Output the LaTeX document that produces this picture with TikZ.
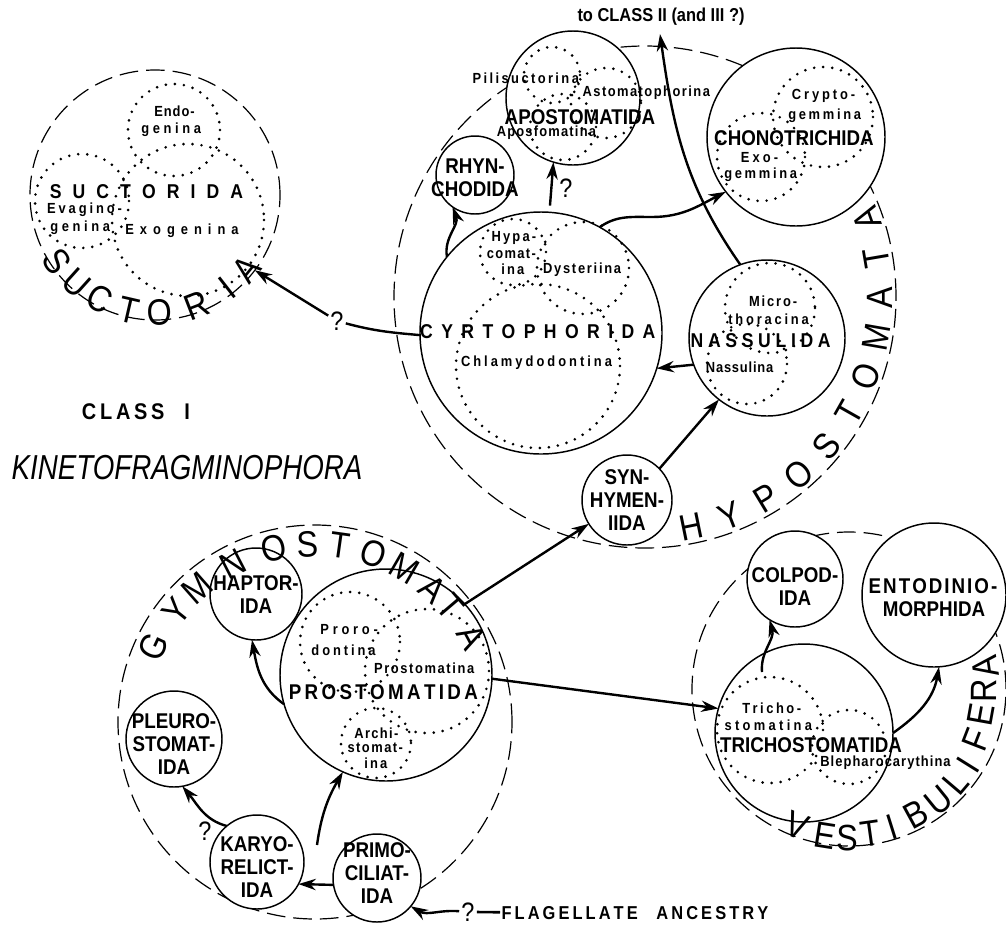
\documentclass[tikz,border=0pt]{standalone}
\usepackage{fontspec}
\setmainfont{Liberation Sans}[FakeStretch=0.88]
\newfontfamily\kfont{Liberation Sans}[FakeStretch=0.80]
\usetikzlibrary{arrows.meta,calc}
\makeatletter
\newcommand\spc[2]{\begingroup\def\spc@g{#1}\@tfor\spc@c:=#2\do{\spc@c\hskip\spc@g\relax}\hskip-\spc@g\relax\endgroup}
\makeatother
\begin{document}
\begin{tikzpicture}[x=0.75pt,y=-0.75pt,
 grp/.style={circle,draw,line width=0.9pt,dash pattern=on 14pt off 6pt,inner sep=0pt,outer sep=0pt,minimum size={#1*1.5pt}},
 ord/.style={circle,draw,fill=white,line width=1.1pt,inner sep=0pt,outer sep=0pt,minimum size={#1*1.5pt}},
 dotc/.style={line width=2.2pt,dash pattern=on 0pt off 6.8pt,line cap=round},
 olab/.style={font=\bfseries\fontsize{16}{17.25}\selectfont,align=center,inner sep=0pt},
 slab/.style={font=\bfseries\fontsize{11}{12}\selectfont,inner sep=0pt},
 mlab/.style={font=\bfseries\fontsize{15}{15}\selectfont,inner sep=0pt},
 glab/.style={font=\bfseries\fontsize{16}{16}\selectfont,inner sep=0pt},
 big/.style={font=\fontsize{27.5}{27.5}\selectfont,inner sep=0pt},
 qm/.style={font=\fontsize{20}{20}\selectfont,inner sep=1.5pt},
 arr/.style={line width=1.8pt,-{Stealth[length=13pt,width=8.5pt]}},
 conn/.style={line width=1.8pt}]
\fill[white] (0,0) rectangle (1006,929);
\useasboundingbox (0,0) rectangle (1006,929);

% group circles (dashed)
\node[grp=125] (suct) at (155,195) {};
\node[grp=251] (hypo) at (645,297) {};
\node[grp=197] (gymno) at (315,722) {};
\node[grp=157] (vest) at (849,689) {};

% order circles
\node[ord=67] (aposto) at (573,98) {};
\node[ord=39] (rhyn) at (475,175) {};
\node[ord=121] (cyrto) at (541,333) {};
\node[ord=89] (chono) at (796,137) {};
\node[ord=78] (nass) at (767,338) {};
\node[ord=45] (syn) at (627,500) {};
\node[ord=46] (hapt) at (256,594) {};
\node[ord=106] (prost) at (386,675) {};
\node[ord=48] (pleuro) at (174,739) {};
\node[ord=47] (karyo) at (257,862) {};
\node[ord=44] (primo) at (377,878) {};
\node[ord=48] (colpod) at (795,579) {};
\node[ord=72] (entod) at (934,595) {};
\node[ord=89] (tricho) at (804,733) {};

% dotted suborder circles
\draw[dotc] (174,130) circle[radius=46];
\draw[dotc] (82,201) circle[radius=47];
\draw[dotc] (188,220) circle[radius=76];
\draw[dotc] (552,75) circle[radius=28];
\draw[dotc] (606,103) circle[radius=35];
\draw[dotc] (563,127) circle[radius=33];
\draw[dotc] (513,252) circle[radius=33];
\draw[dotc] (583,268) circle[radius=46];
\draw[dotc] (538,366) circle[radius=82];
\draw[dotc] (823,117) circle[radius=50];
\draw[dotc] (761,157) circle[radius=44];
\draw[dotc] (770,308) circle[radius=45];
\draw[dotc] (747,364) circle[radius=40];
\draw[dotc] (350,642) circle[radius=50];
\draw[dotc] (427,671) circle[radius=62];
\draw[dotc] (376,743) circle[radius=35];
\draw[dotc] (770,730) circle[radius=53];
\draw[dotc] (849,747) circle[radius=37];

% Suctoria labels
\node[slab] (endo1) at (175,111) {\spc{0.7pt}{Endo-}};
\node[slab] (endo2) at (173,130) {\spc{2.7pt}{genina}};
\node[mlab] (suctorida) at (152,192) {\spc{8.3pt}{SUCTORIDA}};
\node[slab] (evag1) at (86,210) {\spc{2.2pt}{Evagino-}};
\node[slab] (evag2) at (82,228) {\spc{2.7pt}{genina}};
\node[slab] (exog) at (185,231) {\spc{4.5pt}{Exogenina}};

% Apostomatida
\node[slab] (pili) at (527,78) {\spc{1.8pt}{Pilisuctorina}};
\node[slab] (astom) at (647,93) {\spc{1.1pt}{Astomatophorina}};
\node[glab] (l-aposto) at (580,117) {APOSTOMATIDA};
\node[slab] (aposf) at (547,133) {\spc{0.9pt}{Aposfomatina}};
\node[olab] (l-rhyn) at (475,178) {RHYN-\\CHODIDA};

% Cyrtophorida
\node[slab] (hyp1) at (515,238) {\spc{1.6pt}{Hypa-}};
\node[slab] (hyp2) at (512,254) {\spc{1.0pt}{comat-}};
\node[slab] (hyp3) at (514,269) {\spc{1.6pt}{ina}};
\node[slab] (dyst) at (583,270) {\spc{1.3pt}{Dysteriina}};
\node[mlab] (l-cyrto) at (542,332) {\spc{6.3pt}{CYRTOPHORIDA}};
\node[slab] (chlam) at (538,363) {\spc{2.25pt}{Chlamydodontina}};

% Chonotrichida
\node[slab] (cry1) at (825,96) {\spc{2.2pt}{Crypto-}};
\node[slab] (cry2) at (826,116) {\spc{2.0pt}{gemmina}};
\node[glab] (l-chono) at (794,138) {CHONOTRICHIDA};
\node[slab] (exo1) at (761,158) {\spc{2.3pt}{Exo-}};
\node[slab] (exo2) at (762,175) {\spc{2.0pt}{gemmina}};

% Nassulida
\node[slab] (mic1) at (774,301) {\spc{1.4pt}{Micro-}};
\node[slab] (mic2) at (770,319) {\spc{2.1pt}{thoracina}};
\node[mlab] (l-nass) at (763,341) {\spc{3.5pt}{NASSULIDA}};
\node[slab] (nassl) at (740,367) {\spc{0.6pt}{Nassulina}};
\node[olab] (l-syn) at (627,500) {SYN-\\HYMEN-\\IIDA};

% Gymnostomata
\node[olab] (l-hapt) at (256,595) {HAPTOR-\\IDA};
\node[slab] (pro1) at (351,630) {\spc{2.8pt}{Proro-}};
\node[slab] (pro2) at (345,650) {\spc{2.2pt}{dontina}};
\node[slab] (prost2) at (425,668) {\spc{1.2pt}{Prostomatina}};
\node[glab] (l-prost) at (385,692) {\spc{2.5pt}{PROSTOMATIDA}};
\node[slab] (arc1) at (377,733) {\spc{1.0pt}{Archi-}};
\node[slab] (arc2) at (376,748) {\spc{1.1pt}{stomat-}};
\node[slab] (arc3) at (377,763) {\spc{1.6pt}{ina}};
\node[olab] (l-pleuro) at (174,744) {PLEURO-\\STOMAT-\\IDA};
\node[olab] (l-karyo) at (257,867) {KARYO-\\RELICT-\\IDA};
\node[olab] (l-primo) at (377,873) {PRIMO-\\CILIAT-\\IDA};

% Vestibulifera
\node[olab] (l-colpod) at (795,587) {COLPOD-\\IDA};
\node[olab] (l-entod) at (934,598) {\spc{1.5pt}{ENTODINIO-}\\MORPHIDA};
\node[slab] (tri1) at (773,708) {\spc{1.9pt}{Tricho-}};
\node[slab] (tri2) at (770,725) {\spc{2.5pt}{stomatina}};
\node[glab] (l-tricho) at (811,745) {TRICHOSTOMATIDA};
\node[slab] (bleph) at (886,763) {\spc{0.8pt}{Blepharocarythina}};

% arc lettering
\foreach \lt/\ang [count=\i] in {S/214,U/228,C/242,T/257,O/272,R/291,I/308,A/321}
  \node[big,rotate=\ang+90] (sa\i) at ($(suct.center)+(\ang:88.5pt)$) {\lt};
\foreach \lt/\ang [count=\i] in {H/281.5,Y/291.3,P/301.1,O/310.9,S/320.7,T/330.5,O/340.3,M/350.1,A/359.9,T/369.7,A/379.5}
  \node[big,rotate=\ang+90] (ha\i) at ($(hypo.center)+(\ang:176.25pt)$) {\lt};
\foreach \lt/\ang [count=\i] in {G/155,Y/141.3,M/131.4,N/117.3,O/103.3,S/92.5,T/82,O/70.8,M/59.9,A/48.5,T/40.4,A/28.4}
  \node[big,rotate=\ang-90] (ga\i) at ($(gymno.center)+(\ang:133.5pt)$) {\lt};
\foreach \lt/\px/\py/\ang [count=\i] in {V/797/826/249,E/825/836/261,S/847/838/269,T/870/834/278,I/892/827/287.5,B/916/814/298.6,U/939/800/309,L/956/782/319.6,I/968/765/328,F/976/740/338.8,E/981/715/349.8,R/984/691/359.6,A/985/667/8.7}
  \node[big,rotate=\ang+90] (va\i) at (\px,\py) {\lt};

% free texts
\node[font=\bfseries\fontsize{14}{14}\selectfont,inner sep=0pt] (clstxt) at (661,17) {to CLASS II (and III ?)};
\node[font=\bfseries\fontsize{17}{17}\selectfont,inner sep=0pt] (cls1) at (136,412) {\spc{2.8pt}{CLASS}\hspace{15pt}I};
\node[font=\kfont\itshape\fontsize{26}{26}\selectfont,inner sep=0pt] (kin) at (187,468) {KINETOFRAGMINOPHORA};
\node[font=\bfseries\fontsize{14}{14}\selectfont,inner sep=1pt,anchor=west] (flag) at (500,913) {\spc{2.3pt}{FLAGELLATE}\hspace{14pt}\spc{2.3pt}{ANCESTRY}};

% question marks
\node[qm] (q1) at (337,321) {?};
\node[qm] (q2) at (566,188) {?};
\node[qm] (q3) at (205,831) {?};
\node[qm] (qf) at (468,912) {?};

% connectors
\coordinate (cls) at (660,34);
\coordinate (wv) at (652,217);
\coordinate (ks) at (317,845);
\coordinate (ts) at (762,672);
\draw[conn] (cyrto.181) to[out=175,in=-15] (q1);
\draw[arr] (q1) -- (suct.-37);
\draw[arr] (nass.200) -- (cyrto.-17);
\draw[arr] (syn.44) -- (nass.232);
\draw[arr] (cyrto.141) to[out=100,in=-70] (rhyn.235);
\draw[arr,shorten <=5pt] (cyrto.86) -- (aposto.253);
\draw[arr] (cyrto.61) to[out=35,in=180] (wv) to[out=0,in=207] (chono.218);
\draw[arr] (nass.110) to[out=125,in=-82] (cls);
\draw[arr] (prost.42) -- (syn.212);
\draw[arr] (prost.-2) -- (tricho.164);
\draw[arr] (prost.196) to[out=145,in=-80] (hapt.265);
\draw[arr] (ks) to[out=82,in=-120] (prost.246);
\draw[arr] (karyo.130) to[out=165,in=-50] (pleuro.-80);
\draw[arr] (primo.189) -- (karyo.-28);
\draw[arr] (qf) to[out=175,in=-30] (primo.-40);
\draw[line width=2pt] (qf) -- (flag);
\draw[arr] (ts) to[out=95,in=-75] (colpod.238);
\draw[arr] (tricho.0) to[out=35,in=-100] (entod.-86);
\end{tikzpicture}
\end{document}
